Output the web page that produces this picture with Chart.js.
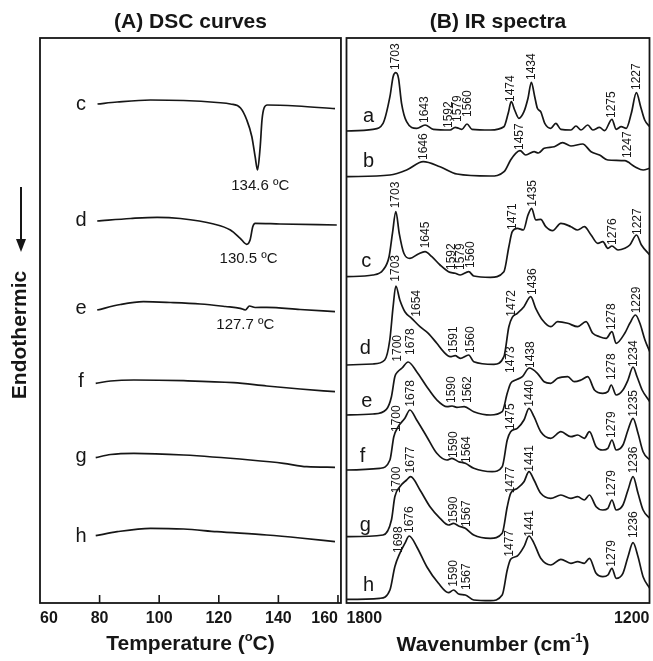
<!DOCTYPE html>
<html><head><meta charset="utf-8">
<script src="https://cdn.jsdelivr.net/npm/chart.js@4.4.0/dist/chart.umd.min.js"></script>
<style>
html,body{margin:0;padding:0;background:#fff;}
#wrap{position:relative;width:653px;height:661px;overflow:hidden;}
canvas{position:absolute;top:0;}
#dsc{left:0;}
#ir{left:344px;}
</style></head><body>
<div id="wrap"><canvas id="dsc" width="344" height="661"></canvas><canvas id="ir" width="309" height="661"></canvas></div>
<script>
// ---------- DSC data (temperature °C, relative heat flow a.u.) ----------
const dscSamples = ['c','d','e','f','g','h'];
const dscOffsets = [499, 382, 293, 219.7, 145.3, 67.3];
const dscC = [[79.3,0],[85.9,2],[97.1,4],[108.2,3.5],[119.4,1.5],[123.9,0],[127.3,-4],[129.4,-16],[131.1,-32.7],[132.2,-52.7],[133.0,-66],[133.9,-42.7],[134.5,-16],[135.2,-4],[136.3,-1],[146.2,-2],[159,-4.7]];
const dscD = [[79.2,0],[90.4,2.5],[99.3,3.7],[107.1,2.5],[118.3,-3],[123.9,-9],[127.2,-17.3],[129.4,-23.3],[130.5,-19],[131.4,-5.7],[132.2,-2.3],[140.6,-3],[159.6,-4]];
const dscE = [[79.2,0],[87,5.5],[94.7,8.3],[103.8,7.5],[113.8,6],[122.2,3.5],[127.2,1.7],[128.9,0],[130.3,4],[132.2,2.5],[136.1,2.7],[147.3,0.5],[159,-1.7]];
const dscF = [[78.7,0],[83.7,2.3],[91.5,3.3],[108.2,2.6],[125,0.6],[136.1,-2.7],[147.3,-5.7],[159,-8.4]];
const dscG = [[78.7,0],[83.7,3.2],[91.5,4.4],[108.2,2.7],[130.5,-2.3],[141.7,-5.6],[149.5,-9],[159,-9.6]];
const dscH = [[78.7,0],[85.9,4],[97.1,7.4],[108.2,6.7],[119.4,4],[136.1,0.7],[147.3,-2.3],[159,-6]];
const dscCurves = [dscC, dscD, dscE, dscF, dscG, dscH];
const dscTicks = [60, 80, 100, 120, 140, 160];
const dscPeakText = ['134.6 ºC', '130.5 ºC', '127.7 ºC'];
const dscPeakAt = [[133.9, 417], [130.0, 343.7], [128.9, 278]];
const dscLetterAt = [[73.8,499],[73.8,383],[73.8,295],[73.8,221.3],[73.8,146.3],[73.8,67]];

// ---------- IR data (wavenumber cm-1, relative absorbance a.u.) ----------
const irSamples = ['a','b','c','d','e','f','g','h'];
const irOffsets = [472, 426.3, 326.3, 238, 188, 133, 66.3, 3.7];
const irA = [[1800,0],[1747.6,1.7],[1727.6,7.7],[1714,34.3],[1707.7,54.3],[1702.3,58.3],[1697,52.7],[1691,27.7],[1681,9.3],[1661,2.7],[1644.5,6],[1628,1.7],[1594.7,1],[1584.8,3.7],[1578,2.7],[1571.4,1.7],[1561.4,7],[1551.5,1.7],[1515,1],[1488.3,4.3],[1479.8,17.7],[1473.8,29.3],[1467,21],[1458.6,12.7],[1448.6,19.3],[1440.6,32.7],[1434,48.7],[1427.3,34.3],[1422,22.7],[1415.4,19.3],[1407.4,7.7],[1395.4,2.7],[1385.5,7.7],[1375.5,1.7],[1355.6,1],[1345.6,5],[1335.6,1],[1322.3,6],[1312.3,1],[1299,3.7],[1289,0.3],[1274.4,11.7],[1266,1.7],[1256,4.3],[1246,2.7],[1236,17.7],[1226,38.3],[1217.5,24.3],[1209.5,11],[1199.5,4.3]];
const irB = [[1800,0],[1714,1.7],[1681,6.7],[1648,15],[1614.7,10],[1581.4,2.7],[1515,0.7],[1488,5],[1475,16.7],[1465,23.4],[1456.4,26],[1445,21.7],[1428.6,25],[1420,23.7],[1408.6,28.4],[1388.6,30],[1372,34],[1355.6,30.7],[1332.3,32.7],[1315.7,25],[1299,21.7],[1282.4,16.7],[1249,16],[1229,10],[1212.6,6.7],[1199.5,8.4]];
const irC = [[1800,0],[1747.6,1.7],[1727.6,6.7],[1715.7,20],[1709,43.4],[1702.3,65],[1695.6,43.4],[1686.4,23.4],[1674.4,18.4],[1657.8,22.7],[1644.5,25],[1631,20],[1614.7,11.7],[1598,5],[1584.8,3.4],[1574.8,1.7],[1558,5],[1548,0.7],[1515,-0.6],[1488.3,5],[1478.5,30],[1471.8,45],[1461.8,48.4],[1449.8,46.7],[1440.6,61.7],[1433.3,68.4],[1425.3,56.7],[1415.4,57.4],[1405.4,50],[1392,46],[1375.5,53.4],[1355.6,50],[1342.3,46.7],[1329,50],[1315.7,41.7],[1302.4,33.4],[1292.4,35],[1282.4,28.4],[1274.4,30.7],[1262.4,26.7],[1249,28.4],[1239,31.7],[1225.7,41.7],[1216,31.7],[1199.5,21.7]];
const irD = [[1800,0],[1747.6,1],[1724.3,5],[1714.3,25],[1707.7,58.3],[1702.3,79],[1694.4,65],[1684.4,53.3],[1671,46.7],[1654.5,38.3],[1638,31.7],[1621.2,21.7],[1607.9,13.3],[1594.7,8.3],[1584.8,9.3],[1574.8,6.7],[1558,10],[1548,3.3],[1508,0.7],[1488.3,8.3],[1478.5,38.3],[1471.8,47.7],[1461.8,51.7],[1448.6,58.3],[1435.3,68.3],[1425.3,56.7],[1412,45],[1395.4,38.3],[1382,43.3],[1362,41.7],[1342.3,38.3],[1325.7,43.3],[1312.3,31.7],[1299,28.3],[1285.8,26.7],[1274.4,33.3],[1266,21.7],[1249,31.7],[1239,41.7],[1227.7,50],[1219,41.7],[1209,25],[1199.5,13.3]];
const irE = [[1800,0],[1747.6,1],[1721,5.7],[1711,18.3],[1704.3,38.3],[1699,43],[1690,47],[1678,53],[1661,43.3],[1641,28.3],[1621,15],[1601,8.3],[1591,9],[1581.4,7.7],[1566.8,8.3],[1548,3.3],[1515,0],[1491.7,3.3],[1481.7,21.7],[1475,31.7],[1465,35],[1451.8,38.3],[1438,47],[1422,41.7],[1408.6,33.3],[1395.4,31.7],[1382,36.7],[1362,38.3],[1348.9,33.3],[1335.6,35],[1322.3,38.3],[1309,25],[1292.4,21.7],[1282.4,23.3],[1275.8,30],[1266,20],[1252.6,25],[1242.6,35],[1232.6,48],[1224.6,38.3],[1214.6,25],[1199.5,13.3]];
const irF = [[1800,0],[1734,1.7],[1714,10],[1706.3,33.3],[1697.6,43.3],[1684.4,51.7],[1674.4,60],[1661,50],[1641,33.3],[1621.2,16.7],[1601.3,10],[1591.3,11.7],[1578,8.3],[1564.8,6.7],[1548,1.7],[1511.6,-1.7],[1491.7,3.3],[1481.7,30],[1475,38.3],[1461.8,41.7],[1448.6,50],[1438.6,61.7],[1428.7,53.3],[1415.4,38.3],[1395.4,31.7],[1375.5,38.3],[1355.6,33.3],[1342.3,35],[1329,31.7],[1319,38.3],[1305.7,23.3],[1292.4,20],[1282.4,21.7],[1274.4,30],[1266,20],[1252.6,25],[1242.6,40],[1232.6,51.7],[1222.7,36.7],[1212.7,18.3],[1199.5,10]];
const irG = [[1800,0],[1727.6,1.7],[1711,16.7],[1704.3,40],[1694.4,50],[1681,56.7],[1673,60],[1654.5,46.7],[1634.6,30],[1614.7,18.4],[1598,11.7],[1588,13.4],[1578,10.7],[1564.8,8.4],[1548,1.7],[1515,-1.6],[1491.7,3.4],[1481.7,30],[1475,43.4],[1461.8,48.4],[1448.6,55],[1438.6,65],[1428.7,56.7],[1415.4,43.4],[1395.4,38.4],[1375.5,41.7],[1355.6,38.4],[1342.3,40],[1329,36.7],[1319,41.7],[1305.7,30],[1292.4,26.7],[1282.4,28.4],[1274.4,36.7],[1266,26.7],[1252.6,31.7],[1242.6,46.7],[1232.6,60],[1222.7,43.4],[1212.7,26.7],[1199.5,18.4]];
const irH = [[1800,0],[1734,1],[1714,9.3],[1704.3,32.6],[1694.4,46],[1684.4,56],[1675.8,63.3],[1661,52.6],[1641,32.6],[1617.9,16],[1598,6.6],[1588,9.3],[1578,5.3],[1564.8,4.3],[1548,-0.7],[1515,-1.4],[1491.7,4.3],[1481.7,29.3],[1475,40],[1461.8,43.3],[1448.6,52.6],[1438.6,63.3],[1428.7,56],[1415.4,41],[1395.4,34.3],[1375.5,40],[1355.6,36],[1342.3,37.6],[1329,36],[1319,41],[1305.7,26],[1292.4,22.6],[1282.4,24.3],[1274.4,31],[1266,21],[1252.6,26],[1242.6,42.6],[1232.6,56.6],[1222.7,42.6],[1212.7,22.6],[1199.5,11]];
const irSpectra = [irA, irB, irC, irD, irE, irF, irG, irH];
const irTicks = [1800, 1200];
const irLetterAt = [[1767.5,486.3],[1767.5,441.3],[1770.7,341.3],[1774,254.7],[1770.7,201.3],[1774,146.3],[1774,78],[1767.5,18]];
// peak labels: [text, wavenumber, label base]
const irPeakLabels = [
  ['1703',1702.3,533],['1643',1644.5,480],['1592',1598,475],['1579',1580,481],['1560',1560,486],['1474',1475,501],['1434',1433.8,523],['1275',1274.3,485],['1227',1226,513],
  ['1646',1646.5,443],['1457',1456.5,453],['1247',1243.8,445],
  ['1703',1702.3,394.7],['1645',1642.5,354.7],['1592',1591.3,333],['1579',1573.4,333],['1560',1553.4,335],['1471',1471.7,373],['1435',1430.6,396.3],['1276',1272.3,358],['1227',1224,368],
  ['1703',1702.3,321.3],['1654',1661,286.3],['1591',1588,250],['1560',1553.4,250],['1472',1473.7,286.3],['1436',1431.8,308],['1278',1274.3,273],['1229',1226,289.7],
  ['1700',1697.7,241.3],['1678',1673,248],['1590',1591.3,200],['1562',1560,200],['1473',1475,230],['1438',1435.2,235],['1278',1274.3,223],['1234',1230.5,236],
  ['1700',1699.7,171],['1678',1673,196.3],['1590',1588,145],['1564',1561.4,140],['1475',1475,173],['1440',1436.6,196.3],['1279',1274.3,165],['1235',1230.5,186.3],
  ['1700',1699.7,109.7],['1677',1673,129.7],['1590',1588,79.7],['1567',1562.8,76],['1477',1475,109.7],['1441',1436.6,131.3],['1279',1274.3,106.3],['1236',1230.5,129.7],
  ['1698',1695.7,50],['1676',1674.4,70],['1590',1588,16.3],['1567',1562.8,13],['1477',1476.5,46.3],['1441',1436.6,66.3],['1279',1275.6,36.3],['1236',1230.5,65]
];

// ---------- helpers ----------
const FONT = '"Liberation Sans", Arial, sans-serif';
const INK = '#161616';
function toPts(pairs, off){ return pairs.map(p => ({x: p[0], y: p[1] + off})); }
function lineDs(pairs, off){
  return {data: toPts(pairs, off), borderColor: INK, borderWidth: 1.7, pointRadius: 0,
          cubicInterpolationMode: 'monotone', fill: false};
}
function drawRich(ctx, parts, cx, cy, size){
  let total = 0;
  const w = parts.map(p => { ctx.font = 'bold ' + (p.sup ? Math.round(size*0.62) : size) + 'px ' + FONT; const m = ctx.measureText(p.t).width; total += m; return m; });
  let x = cx - total/2;
  ctx.textAlign = 'left'; ctx.textBaseline = 'middle';
  parts.forEach((p,i) => {
    ctx.font = 'bold ' + (p.sup ? Math.round(size*0.62) : size) + 'px ' + FONT;
    ctx.fillText(p.t, x, p.sup ? cy - size*0.32 : cy);
    x += w[i];
  });
}
function frame(chart){
  const a = chart.chartArea, ctx = chart.ctx;
  ctx.save(); ctx.strokeStyle = INK; ctx.lineWidth = 1.8;
  ctx.strokeRect(a.left, a.top, a.right - a.left, a.bottom - a.top);
  ctx.restore();
}
const plainTick = v => String(v);

// ---------- DSC chart ----------
const dscPlugin = {
  id: 'dscDecor',
  afterDraw(chart){
    const ctx = chart.ctx, a = chart.chartArea, xs = chart.scales.x, ys = chart.scales.y;
    frame(chart);
    ctx.save();
    ctx.strokeStyle = INK; ctx.lineWidth = 1.6;
    dscTicks.forEach(v => { if (v === dscTicks[0]) return; const px = xs.getPixelForValue(v); ctx.beginPath(); ctx.moveTo(px, a.bottom); ctx.lineTo(px, a.bottom - 8); ctx.stroke(); });
    ctx.fillStyle = INK;
    ctx.font = 'bold 21px ' + FONT; ctx.textAlign = 'center'; ctx.textBaseline = 'middle';
    ctx.fillText('(A) DSC curves', (a.left + a.right)/2, 22);
    drawRich(ctx, [{t:'Temperature ('},{t:'o',sup:true},{t:'C)'}], (a.left + a.right)/2, 644, 21);
    ctx.save(); ctx.translate(20, 335); ctx.rotate(-Math.PI/2);
    ctx.font = 'bold 21px ' + FONT; ctx.textAlign = 'center'; ctx.textBaseline = 'middle';
    ctx.fillText('Endothermic', 0, 0); ctx.restore();
    ctx.lineWidth = 2; ctx.beginPath(); ctx.moveTo(21, 187); ctx.lineTo(21, 242); ctx.stroke();
    ctx.beginPath(); ctx.moveTo(16, 239); ctx.lineTo(26, 239); ctx.lineTo(21, 252); ctx.closePath(); ctx.fill();
    ctx.font = '20px ' + FONT; ctx.textAlign = 'center'; ctx.textBaseline = 'middle';
    dscSamples.forEach((s,i) => ctx.fillText(s, xs.getPixelForValue(dscLetterAt[i][0]), ys.getPixelForValue(dscLetterAt[i][1])));
    ctx.font = '15px ' + FONT;
    dscPeakText.forEach((t,i) => ctx.fillText(t, xs.getPixelForValue(dscPeakAt[i][0]), ys.getPixelForValue(dscPeakAt[i][1])));
    ctx.restore();
  }
};
new Chart(document.getElementById('dsc'), {
  type: 'line',
  data: {datasets: dscCurves.map((c,i) => lineDs(c, dscOffsets[i]))},
  options: {
    responsive: false, animation: false, devicePixelRatio: 1,
    layout: {padding: {left: 40, right: 3, top: 38, bottom: 0}},
    plugins: {legend: {display: false}, tooltip: {enabled: false}},
    scales: {
      x: {type: 'linear', min: 60, max: 161, afterFit: s => { s.height = 58; },
          grid: {display: false, drawTicks: false}, border: {display: false},
          afterBuildTicks: s => { s.ticks = dscTicks.map(v => ({value: v})); },
          ticks: {align: 'inner', padding: 6, color: INK, callback: plainTick, font: {family: FONT, size: 16, weight: 'bold'}}},
      y: {type: 'linear', min: 0, max: 565, display: false}
    }
  },
  plugins: [dscPlugin]
});

// ---------- IR chart ----------
const irPlugin = {
  id: 'irDecor',
  afterDraw(chart){
    const ctx = chart.ctx, a = chart.chartArea, xs = chart.scales.x, ys = chart.scales.y;
    frame(chart);
    ctx.save(); ctx.fillStyle = INK;
    ctx.font = 'bold 21px ' + FONT; ctx.textAlign = 'center'; ctx.textBaseline = 'middle';
    ctx.fillText('(B) IR spectra', (a.left + a.right)/2, 22);
    drawRich(ctx, [{t:'Wavenumber (cm'},{t:'-1',sup:true},{t:')'}], (a.left + a.right)/2 - 5, 645, 21);
    ctx.font = '20px ' + FONT;
    irSamples.forEach((s,i) => ctx.fillText(s, xs.getPixelForValue(irLetterAt[i][0]), ys.getPixelForValue(irLetterAt[i][1])));
    ctx.font = '12px ' + FONT; ctx.textAlign = 'left'; ctx.textBaseline = 'middle';
    irPeakLabels.forEach(l => {
      ctx.save(); ctx.translate(xs.getPixelForValue(l[1]), ys.getPixelForValue(l[2])); ctx.rotate(-Math.PI/2);
      ctx.fillText(l[0], 0, 0); ctx.restore();
    });
    ctx.restore();
  }
};
new Chart(document.getElementById('ir'), {
  type: 'line',
  data: {datasets: irSpectra.map((s,i) => lineDs(s, irOffsets[i]))},
  options: {
    responsive: false, animation: false, devicePixelRatio: 1,
    layout: {padding: {left: 2.5, right: 3.5, top: 38, bottom: 0}},
    plugins: {legend: {display: false}, tooltip: {enabled: false}},
    scales: {
      x: {type: 'linear', min: 1200, max: 1800, reverse: true, afterFit: s => { s.height = 58; },
          grid: {display: false, drawTicks: false}, border: {display: false},
          afterBuildTicks: s => { s.ticks = irTicks.slice().sort((p,q)=>p-q).map(v => ({value: v})); },
          ticks: {align: 'inner', padding: 6, color: INK, callback: plainTick, font: {family: FONT, size: 16, weight: 'bold'}}},
      y: {type: 'linear', min: 0, max: 565, display: false}
    }
  },
  plugins: [irPlugin]
});
</script>
</body></html>
